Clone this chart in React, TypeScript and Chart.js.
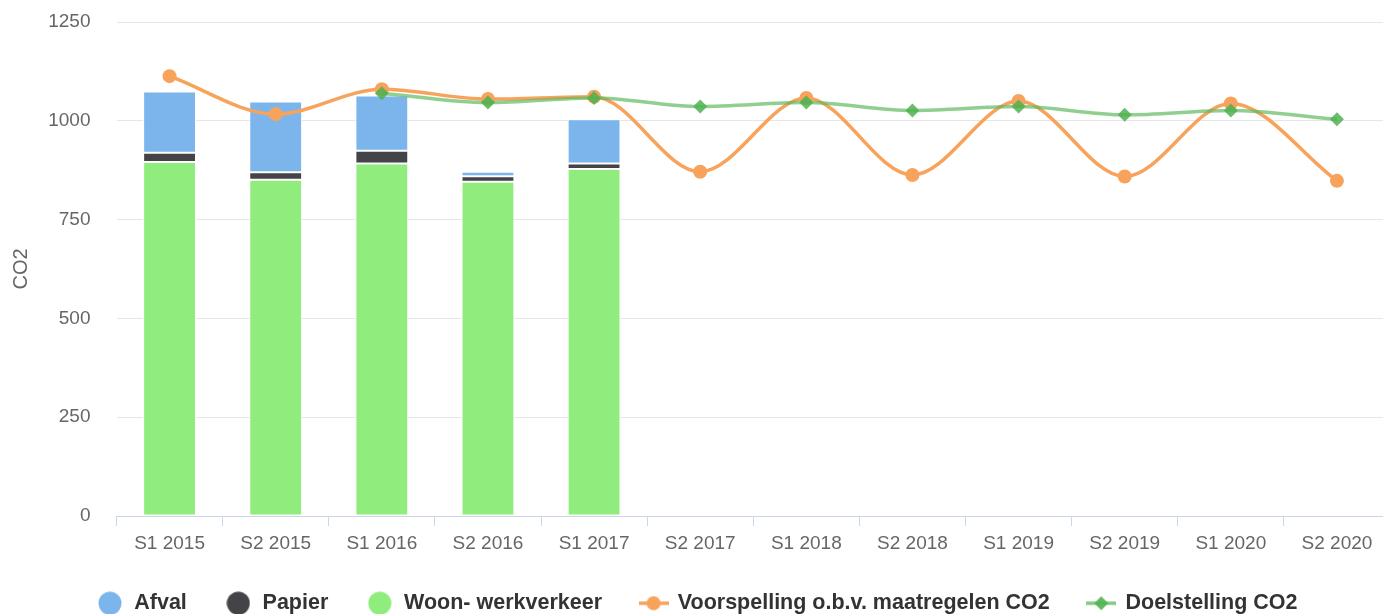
import { useEffect, useRef } from "react";
import { Chart, registerables } from "chart.js";

Chart.register(...registerables);

const categories = [
  "S1 2015", "S2 2015", "S1 2016", "S2 2016", "S1 2017", "S2 2017",
  "S1 2018", "S2 2018", "S1 2019", "S2 2019", "S1 2020", "S2 2020",
];
const afval = [155, 179, 140, 11, 112, null, null, null, null, null, null, null];
const papier = [23, 19, 32, 14, 14, null, null, null, null, null, null, null];
const woonWerkverkeer = [896, 851, 892, 846, 878, null, null, null, null, null, null, null];
const voorspelling = [1113, 1017, 1080, 1055, 1061, 871, 1058, 863, 1050, 859, 1044, 848];
const doelstelling = [null, null, 1070, 1046, 1058, 1036, 1046, 1026, 1036, 1015, 1026, 1004];
const yMin = 0;
const yMax = 1250;
const yStep = 250;

const FONT = "'Liberation Sans', Arial, Helvetica, sans-serif";
const C_AFVAL = "#7cb5ec";
const C_PAPIER = "#434348";
const C_WOON = "#90ed7d";
const C_ORANGE = "#f7a35c";
const C_GREEN_LINE = "rgba(92,184,92,0.68)";
const C_GREEN_MARK = "rgba(80,178,80,0.85)";

function circleIcon(color: string) {
  const c = document.createElement("canvas");
  c.width = 24;
  c.height = 24;
  const ctx = c.getContext("2d")!;
  ctx.fillStyle = color;
  ctx.beginPath();
  ctx.arc(12, 12, 11.5, 0, Math.PI * 2);
  ctx.fill();
  return c;
}

function lineIcon(lineColor: string, markColor: string, shape: "circle" | "diamond") {
  const c = document.createElement("canvas");
  c.width = 30;
  c.height = 24;
  const ctx = c.getContext("2d")!;
  ctx.strokeStyle = lineColor;
  ctx.lineWidth = 3.5;
  ctx.beginPath();
  ctx.moveTo(0, 12);
  ctx.lineTo(30, 12);
  ctx.stroke();
  ctx.fillStyle = markColor;
  ctx.beginPath();
  if (shape === "circle") {
    ctx.arc(15, 12, 7, 0, Math.PI * 2);
  } else {
    ctx.moveTo(15, 5);
    ctx.lineTo(22, 12);
    ctx.lineTo(15, 19);
    ctx.lineTo(8, 12);
    ctx.closePath();
  }
  ctx.fill();
  return c;
}

export default function App() {
  const ref = useRef<HTMLCanvasElement | null>(null);

  useEffect(() => {
    if (!ref.current) return;
    const icons = [
      circleIcon(C_AFVAL),
      circleIcon(C_PAPIER),
      circleIcon(C_WOON),
      lineIcon(C_ORANGE, C_ORANGE, "circle"),
      lineIcon("rgba(92,184,92,0.75)", "rgba(80,178,80,0.9)", "diamond"),
    ];
    const barCommon = {
      type: "bar",
      borderColor: "#ffffff",
      borderWidth: 1,
      borderSkipped: false,
      stack: "bars",
      order: 3,
      categoryPercentage: 0.6,
      barPercentage: 0.83,
    };
    const chart = new Chart(ref.current, {
      type: "bar",
      data: {
        labels: categories,
        datasets: [
          { ...barCommon, label: "Woon- werkverkeer", data: woonWerkverkeer, backgroundColor: C_WOON },
          { ...barCommon, label: "Papier", data: papier, backgroundColor: C_PAPIER },
          { ...barCommon, label: "Afval", data: afval, backgroundColor: C_AFVAL },
          {
            type: "line",
            label: "Voorspelling o.b.v. maatregelen CO2",
            data: voorspelling,
            borderColor: C_ORANGE,
            backgroundColor: C_ORANGE,
            borderWidth: 3.5,
            pointRadius: 7,
            pointBorderWidth: 0,
            pointBackgroundColor: C_ORANGE,
            cubicInterpolationMode: "monotone",
            stack: "l1",
            order: 2,
            fill: false,
          },
          {
            type: "line",
            label: "Doelstelling CO2",
            data: doelstelling,
            borderColor: C_GREEN_LINE,
            backgroundColor: C_GREEN_MARK,
            borderWidth: 3.5,
            pointStyle: "rectRot",
            pointRadius: 7,
            pointBorderWidth: 0,
            pointBackgroundColor: C_GREEN_MARK,
            cubicInterpolationMode: "monotone",
            stack: "l2",
            order: 1,
            fill: false,
          },
        ] as any,
      },
      options: {
        animation: false,
        responsive: false,
        maintainAspectRatio: false,
        devicePixelRatio: 1,
        events: [],
        layout: { padding: { left: 4, top: 22, right: 7, bottom: 0 } },
        plugins: {
          tooltip: { enabled: false },
          legend: {
            position: "bottom",
            labels: {
              usePointStyle: true,
              pointStyleWidth: 27,
              padding: 38,
              color: "#333333",
              font: { family: FONT, size: 21.5, weight: "bold" },
              generateLabels: (ch: any) => {
                const order = [2, 1, 0, 3, 4];
                return order.map((di, k) => ({
                  text: ch.data.datasets[di].label,
                  datasetIndex: di,
                  pointStyle: icons[k],
                  fillStyle: "transparent",
                  strokeStyle: "transparent",
                  lineWidth: 0,
                  hidden: false,
                  fontColor: "#333333",
                }));
              },
            },
          },
        },
        scales: {
          x: {
            stacked: true,
            offset: true,
            grid: {
              offset: true,
              drawOnChartArea: false,
              drawTicks: true,
              tickLength: 10,
              color: "#ccd6eb",
              lineWidth: 1,
            },
            border: { display: true, color: "#ccd6eb", width: 1 },
            ticks: {
              color: "#666666",
              font: { family: FONT, size: 19 },
              padding: 6,
              autoSkip: false,
              maxRotation: 0,
            },
            afterFit: (scale: any) => {
              scale.height = 38.5;
            },
          },
          y: {
            stacked: true,
            min: yMin,
            max: yMax,
            ticks: {
              stepSize: yStep,
              color: "#666666",
              font: { family: FONT, size: 19 },
              padding: 0,
              callback: (v: any) => String(v),
            },
            grid: {
              color: "#e6e6e6",
              lineWidth: 1,
              drawTicks: true,
              tickLength: 26,
              tickColor: "rgba(0,0,0,0)",
            },
            border: { display: false },
            title: {
              display: true,
              text: "CO2",
              color: "#666666",
              font: { family: FONT, size: 20 },
              padding: { top: 5, bottom: 4 },
            },
            afterFit: (scale: any) => {
              scale.width = 112.5;
            },
          },
        },
      } as any,
    });
    return () => chart.destroy();
  }, []);

  return (
    <div
      style={{
        position: "fixed",
        left: 0,
        top: 0,
        width: "100vw",
        height: "100vh",
        overflow: "hidden",
        background: "#ffffff",
      }}
    >
      <canvas ref={ref} width={1397} height={624} style={{ display: "block" }} />
    </div>
  );
}
